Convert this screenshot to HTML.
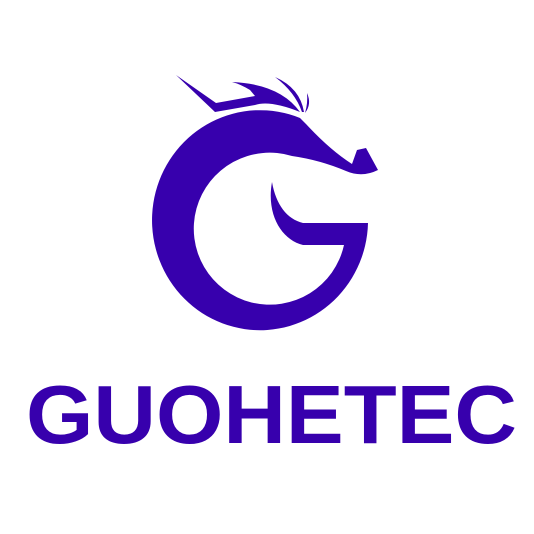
<!DOCTYPE html>
<html><head><meta charset="utf-8"><style>
html,body{margin:0;padding:0;background:#fff;width:534px;height:534px;overflow:hidden}
svg{display:block}
</style></head><body>
<svg width="534" height="534" viewBox="0 0 534 534">
<rect width="534" height="534" fill="#fff"/>
<g fill="#3700ad">
<path fill-rule="evenodd"
 d="M368,223 A108,110 0 1 1 300,118 L306,124 Q330,150 352,164 L357,150 L366,148 L378,170 Q362,178 346,171 Q320,160 292,156 A76,76 0 1 0 344,245 L303,245 C282,240 266,215 272,182 C276,205 287,219 303,223 Z"/>
<path d="M176,75 L216,103 L255,96 L250,90 Q240,84 232,82 Q280,84 300,112 Q270,100 255,105 L215,112 Z"/>
<path d="M275,77 Q300,88 304,112 L302,112 Q295,92 275,77 Z"/>
<path d="M307,93 Q312,104 305,113 Q308,103 307,93 Z"/>
</g>
<text x="26" y="443" textLength="491" lengthAdjust="spacingAndGlyphs" font-family="Liberation Sans, sans-serif" font-weight="bold" font-size="83" fill="#3700ad">GUOHETEC</text>
</svg>
</body></html>
